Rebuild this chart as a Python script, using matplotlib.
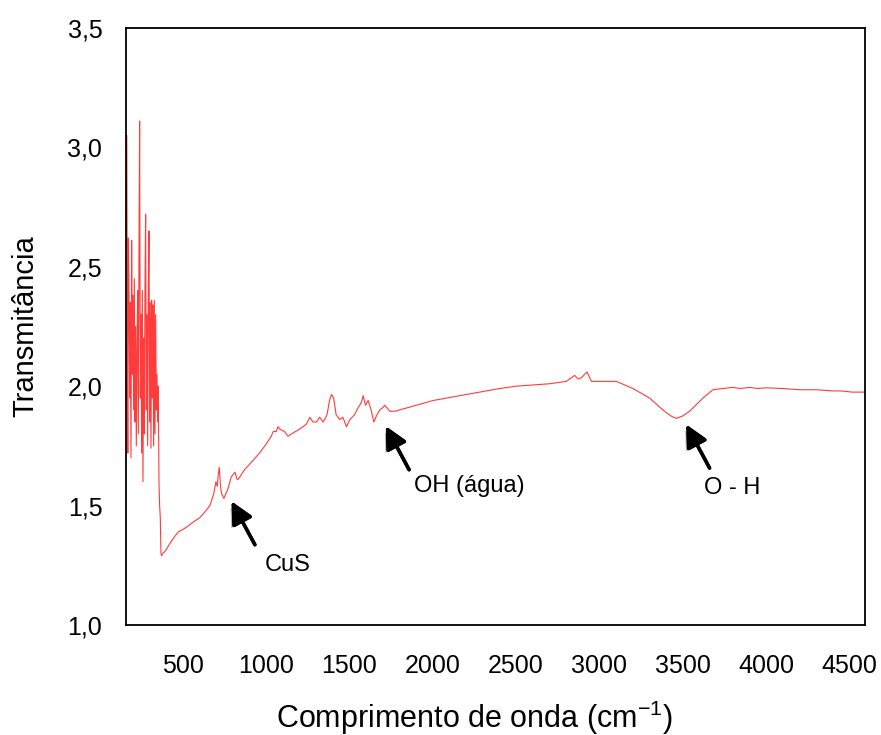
import matplotlib
matplotlib.use('Agg')
import matplotlib.pyplot as plt
import matplotlib.patheffects as pe

plt.rcParams['font.family'] = ['Liberation Sans', 'DejaVu Sans']
plt.rcParams['mathtext.fontset'] = 'custom'
plt.rcParams['mathtext.rm'] = 'Liberation Sans'

# FTIR spectrum (wavenumber in cm-1, transmittance)
wavenumber = [150, 155, 163, 166, 169, 172, 176, 180, 184, 188, 192, 196, 200, 204,
              208, 212, 216, 220, 224, 228, 232, 236, 240, 244, 248, 252, 256, 260,
              264, 268, 272, 276, 280, 284, 288, 292, 296, 300, 304, 308, 312, 316,
              320, 324, 328, 332, 336, 340, 344, 348, 352, 356, 360, 364, 368, 372,
              380, 395, 420, 450, 472, 500, 522, 560, 602, 640, 662, 685, 698, 706,
              712, 718, 726, 732, 746, 770, 790, 812, 825, 832, 870, 922, 960, 1002,
              1030, 1042, 1060, 1070, 1082, 1110, 1130, 1152, 1200, 1240, 1262, 1280,
              1302, 1320, 1342, 1365, 1380, 1392, 1405, 1420, 1442, 1460, 1482, 1502,
              1530, 1552, 1570, 1582, 1596, 1612, 1630, 1646, 1665, 1682, 1700, 1712,
              1742, 1772, 1850, 2002, 2200, 2400, 2502, 2700, 2802, 2852, 2872, 2892,
              2926, 2952, 3000, 3102, 3202, 3302, 3382, 3430, 3462, 3500, 3542, 3622,
              3682, 3742, 3800, 3850, 3902, 3950, 4000, 4102, 4200, 4302, 4400, 4450,
              4520, 4596]
transmitancia = [2.10, 1.75, 3.05, 2.20, 1.72, 2.62, 2.40, 1.95, 2.35, 1.70, 2.61, 2.05,
                 2.38, 1.90, 2.45, 1.85, 2.25, 1.75, 2.15, 2.40, 1.80, 2.55, 3.11, 1.95,
                 2.30, 1.72, 2.40, 1.60, 2.20, 1.80, 2.40, 2.72, 1.90, 2.30, 1.75, 2.38,
                 2.65, 1.85, 2.35, 1.74, 2.36, 1.95, 2.34, 1.75, 2.36, 1.80, 2.30, 1.90,
                 2.05, 1.85, 2.00, 1.60, 1.50, 1.45, 1.30, 1.29, 1.30, 1.31, 1.34, 1.37,
                 1.39, 1.40, 1.41, 1.43, 1.45, 1.48, 1.50, 1.55, 1.60, 1.58, 1.63, 1.66,
                 1.58, 1.55, 1.53, 1.57, 1.62, 1.64, 1.61, 1.61, 1.65, 1.69, 1.72, 1.76,
                 1.79, 1.81, 1.81, 1.83, 1.82, 1.81, 1.79, 1.80, 1.82, 1.84, 1.87, 1.85,
                 1.85, 1.87, 1.85, 1.88, 1.94, 1.965, 1.95, 1.88, 1.86, 1.87, 1.83, 1.86,
                 1.88, 1.91, 1.93, 1.96, 1.92, 1.94, 1.90, 1.85, 1.88, 1.90, 1.91, 1.92,
                 1.895, 1.895, 1.91, 1.94, 1.965, 1.99, 2.00, 2.01, 2.02, 2.045, 2.03, 2.035,
                 2.06, 2.02, 2.02, 2.02, 1.99, 1.95, 1.90, 1.875, 1.865, 1.875, 1.895, 1.95,
                 1.985, 1.99, 1.995, 1.99, 1.995, 1.99, 1.993, 1.99, 1.985, 1.985, 1.98, 1.98,
                 1.975, 1.975]

x_ticks = [500, 1000, 1500, 2000, 2500, 3000, 3500, 4000, 4500]
y_ticks = [1.0, 1.5, 2.0, 2.5, 3.0, 3.5]
y_tick_labels = ['1,0', '1,5', '2,0', '2,5', '3,0', '3,5']

# labels: text, arrow head, arrow tail, text position
bands = [('CuS', (792, 1.517), (932, 1.336), (1130, 1.25)),
         ('OH (água)', (1718, 1.832), (1858, 1.650), (2222, 1.58)),
         ('O - H', (3522, 1.839), (3662, 1.657), (3800, 1.573))]

fig = plt.figure(figsize=(8.81, 7.35), dpi=100)
ax = fig.add_axes([0.143, 0.1497, 0.839, 0.8123])

ax.plot(wavenumber, transmitancia, color='#ff3b3b', lw=0.8)

ax.set_xlim(158, 4596)
ax.set_ylim(1.0, 3.5)
ax.set_xticks(x_ticks)
ax.set_yticks(y_ticks)
ax.set_yticklabels(y_tick_labels)
ax.tick_params(length=0, labelsize=18)
ax.tick_params(axis='x', pad=21)
ax.tick_params(axis='y', pad=17)
for s in ax.spines.values():
    s.set_linewidth(1.3)

fig.text(0.538, 0.024, 'Comprimento de onda (cm$^{\\mathrm{-1}}$)', fontsize=22,
         ha='center', va='center')
ax.set_ylabel('Transmitância', fontsize=21, labelpad=20)

shadow = [pe.withSimplePatchShadow(offset=(-2, -2), shadow_rgbFace='gray', alpha=0.6),
          pe.Normal()]
for txt, head, tail, pos in bands:
    ax.annotate('', xy=head, xytext=tail,
                arrowprops=dict(arrowstyle='-|>,head_length=0.6,head_width=0.3',
                                mutation_scale=22, lw=2.5, color='black',
                                shrinkA=0, shrinkB=0, path_effects=shadow))
    ax.text(pos[0], pos[1], txt, fontsize=17, ha='center', va='center')

fig.savefig('out.png', dpi=100)
